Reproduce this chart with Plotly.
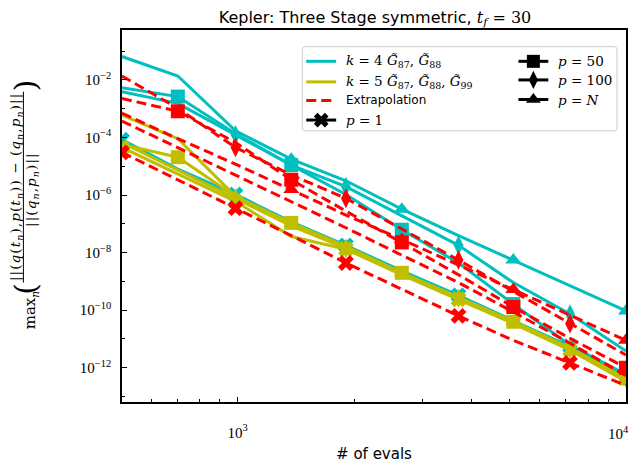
import plotly.graph_objects as go

# ---------------- data ----------------
evals = [504, 702, 988, 1375, 1901, 2648, 3706, 5128, 7176, 10000]

# k = 4 (cyan)
k4_pN   = [6.5e-2, 1.37e-2, 1.7e-4, 1.76e-5, 3.14e-6, 3.24e-7, 3.91e-8, 5.51e-9, 7.19e-10, 9.4e-11]
k4_p100 = [3.9e-3, 1.53e-3, 1.24e-4, 1.1e-5, 1.96e-6, 1.87e-7, 1.79e-8, 9.1e-10, 7.4e-11, 3.8e-12]
k4_p50  = [5.35e-3, 2.64e-3, 1.35e-4, 1.1e-5, 1.05e-6, 6.25e-8, 4.36e-9, 1.63e-10, 6.05e-12, 5.8e-13]
k4_p1   = [8.4e-5, 8.0e-6, 1.05e-6, 1.17e-7, 1.79e-8, 2.33e-9, 3.29e-10, 4.29e-11, 5.6e-12, 4.6e-13]

# k = 5 (olive)
k5_pN   = [5.97e-4, 9.1e-5, 8.96e-7, 1.0e-7, 1.53e-8, 1.99e-9, 2.81e-10, 3.97e-11, 4.79e-12, 3.91e-13]
k5_p100 = [6.65e-5, 7.43e-6, 7.66e-7, 8.55e-8, 1.41e-8, 1.84e-9, 2.60e-10, 3.67e-11, 4.43e-12, 3.61e-13]
k5_p50  = [5.69e-5, 2.06e-5, 8.96e-7, 1.08e-7, 1.65e-8, 1.99e-9, 2.81e-10, 3.97e-11, 4.79e-12, 4.23e-13]
k5_p1   = [4.5e-5, 5.43e-6, 6.05e-7, 3.61e-8, 1.31e-8, 1.70e-9, 2.40e-10, 3.40e-11, 4.09e-12, 3.34e-13]

# Extrapolation (red dashed)
ext_pN     = [6.98e-4, 9.10e-5, 1.19e-5, 1.55e-6, 2.02e-7, 2.86e-8, 3.72e-9, 5.26e-10, 6.87e-11, 8.96e-12]
ext_p100   = [1.37e-2, 1.03e-3, 4.50e-5, 5.02e-6, 7.66e-7, 6.76e-8, 5.51e-9, 4.50e-10, 3.40e-11, 2.77e-12]
ext_p50_b  = [3.73e-4, 4.50e-5, 5.02e-6, 6.05e-7, 7.31e-8, 8.16e-9, 9.1e-10, 8.69e-11, 7.08e-12, 5.34e-13]
ext_p50    = [2.26e-3, 8.16e-4, 6.65e-5, 3.40e-6, 2.77e-7, 2.26e-8, 1.70e-9, 1.29e-10, 1.05e-11, 1.0e-12]
ext_p1     = [3.04e-5, 3.40e-6, 3.50e-7, 3.91e-8, 4.36e-9, 5.26e-10, 6.35e-11, 8.96e-12, 1.48e-12, 2.44e-13]

# marker positions (indices into evals) for each p
marks_p1 = [0, 2, 4, 6, 8]
marks_p50 = [1, 3, 5, 7, 9]
marks_p100 = [2, 4, 6, 8]
marks_pN = [3, 5, 7, 9]

# tick labels
NB = "\u00a0"
xtick_vals = [1000, 10000]
xtick_text = ["10<sup>3</sup>", "10<sup>4</sup>"]
ytick_vals = [1e-2, 1e-4, 1e-6, 1e-8, 1e-10, 1e-12]
ytick_text = ["10<sup>−2</sup>", "10<sup>−4</sup>", "10<sup>−6</sup>", "10<sup>−8</sup>",
              "10<sup>−10</sup>", "10<sup>−12</sup>"]
xminor = [600, 700, 800, 900, 2000, 3000, 4000, 5000, 6000, 7000, 8000, 9000]
yminor = [1e-1, 1e-3, 1e-5, 1e-7, 1e-9, 1e-11, 1e-13]

CYAN = "#00BFBF"
OLIVE = "#BFBF00"
RED = "#FF0000"
DASH = "10px,5px"
SERIF = "Liberation Serif"
MSERIF = "DejaVu Serif"
SANS = "DejaVu Sans"

SYM = {"p1": ("x", 14), "p50": ("square", 14), "p100": ("diamond-tall", 14), "pN": ("triangle-up", 14)}
MARKS = {"p1": marks_p1, "p50": marks_p50, "p100": marks_p100, "pN": marks_pN}

fig = go.Figure()


def add_line(y, color, p, dash=None, marks=True):
    sym, sz = SYM[p]
    idx = MARKS[p] if marks else []
    sizes = [sz if i in idx else 0 for i in range(len(evals))]
    fig.add_trace(go.Scatter(
        x=evals, y=y, mode="lines+markers",
        line=dict(color=color, width=3, dash=dash or "solid"),
        marker=dict(symbol=sym, size=sizes, color=color, opacity=1, line=dict(width=0)),
        showlegend=False, hoverinfo="skip"))


for y, p in [(k4_pN, "pN"), (k4_p100, "p100"), (k4_p50, "p50"), (k4_p1, "p1")]:
    add_line(y, CYAN, p)
for y, p in [(k5_pN, "pN"), (k5_p100, "p100"), (k5_p50, "p50"), (k5_p1, "p1")]:
    add_line(y, OLIVE, p)
add_line(ext_p50_b, RED, "p50", DASH, marks=False)
for y, p in [(ext_pN, "pN"), (ext_p100, "p100"), (ext_p50, "p50"), (ext_p1, "p1")]:
    add_line(y, RED, p, DASH)

# ---------------- geometry (page pixels; page body has an 8px margin) ----------------
OFF = 8
FW, FH = 642 - 2 * OFF, 474 - 2 * OFF
L, R, T, B = 122, 628, 30, 410      # plot area in page pixels
W, H = R - L, B - T


def px(xp):
    return (xp - L) / W


def py(yp):
    return (B - yp) / H


# ---------------- manual legend ----------------
G = "<i>G\u0303</i>"
EQ = f"{NB}={NB}"
legend_col1 = [
    (62, f"<i>k</i>{EQ}4{NB}{G}<sub>87</sub>,{NB}{G}<sub>88</sub>", CYAN, "solid", None),
    (83, f"<i>k</i>{EQ}5{NB}{G}<sub>87</sub>,{NB}{G}<sub>88</sub>,{NB}{G}<sub>99</sub>", OLIVE, "solid", None),
    (102, "Extrapolation", RED, DASH, None),
    (122, f"<i>p</i>{EQ}1", "black", "solid", "p1"),
]
legend_col2 = [
    (62, f"<i>p</i>{EQ}50", "black", "solid", "p50"),
    (81, f"<i>p</i>{EQ}100", "black", "solid", "p100"),
    (101, f"<i>p</i>{EQ}<i>N</i>", "black", "solid", "pN"),
]
annotations = []
for entries, x0, x1, xt in [(legend_col1, 307, 337, 345), (legend_col2, 520, 550, 558)]:
    for yc, name, color, dash, p in entries:
        fig.add_trace(go.Scatter(x=[px(x0), px(x1)], y=[py(yc), py(yc)], xaxis="x2", yaxis="y2",
                                 mode="lines", line=dict(color=color, width=3, dash=dash),
                                 showlegend=False, hoverinfo="skip", cliponaxis=False))
        if p:
            sym, sz = SYM[p]
            fig.add_trace(go.Scatter(x=[px((x0 + x1) / 2)], y=[py(yc)], xaxis="x2", yaxis="y2",
                                     mode="markers", marker=dict(symbol=sym, size=sz - 1, color=color, opacity=1),
                                     showlegend=False, hoverinfo="skip", cliponaxis=False))
        is_sans = name == "Extrapolation"
        annotations.append(dict(text=name, x=px(xt), y=py(yc), xref="paper", yref="paper",
                                xanchor="left", yanchor="middle", showarrow=False,
                                font=dict(family=SANS if is_sans else MSERIF,
                                          size=12 if is_sans else 13.5, color="black")))

fig.add_shape(type="path",
              path=f"M {px(306)} {py(47)} L {px(616)} {py(47)} Q {px(619)} {py(47)} {px(619)} {py(50)} "
                   f"L {px(619)} {py(130)} Q {px(619)} {py(133)} {px(616)} {py(133)} "
                   f"L {px(306)} {py(133)} Q {px(303)} {py(133)} {px(303)} {py(130)} "
                   f"L {px(303)} {py(50)} Q {px(303)} {py(47)} {px(306)} {py(47)} Z",
              xref="paper", yref="paper", line=dict(color="#CCCCCC", width=1),
              fillcolor="rgba(255,255,255,0.8)", layer="below")

# the last x tick label sits on the right edge of the figure: draw it as a right-anchored label
annotations.append(dict(text=xtick_text[1], x=px(FW + OFF - 1), y=py(442), xref="paper", yref="paper",
                        xanchor="right", yanchor="middle", showarrow=False,
                        font=dict(family=SERIF, size=15, color="black")))
axis_ticktext = [xtick_text[0], ""]

# ---------------- y label (fraction) ----------------
LS = "<span style='letter-spacing:1.1px'>"
ylab = [
    ("max<sub><i>n</i></sub>", 31, 316, MSERIF, 15),
    ("(", 25, 294, MSERIF, 30),
    (LS + "||(<i>q</i>(<i>t<sub>n</sub></i>),<i>p</i>(<i>t<sub>n</sub></i>))" + NB + "−" + NB +
     "(<i>q<sub>n</sub></i>,<i>p<sub>n</sub></i>)||</span>", 15, 190, MSERIF, 13.5),
    (LS + "||(<i>q<sub>n</sub></i>,<i>p<sub>n</sub></i>)||</span>", 31, 193, MSERIF, 13.5),
    (")", 25, 86, MSERIF, 30),
]
for text, xx, yy, fam, sz in ylab:
    annotations.append(dict(text=text, x=px(xx), y=py(yy), xref="paper", yref="paper",
                            textangle=-90, showarrow=False, xanchor="center", yanchor="middle",
                            font=dict(family=fam, size=sz, color="black")))
fig.add_shape(type="line", x0=px(23), x1=px(23), y0=py(288), y1=py(93), xref="paper", yref="paper",
              line=dict(color="black", width=1))

fig.update_layout(
    width=FW, height=FH,
    margin=dict(l=L - OFF, r=FW + OFF - R, t=T - OFF, b=FH + OFF - B),
    paper_bgcolor="white", plot_bgcolor="white",
    showlegend=False,
    title=dict(text=f"Kepler: Three Stage symmetric, <span style='font-family:{MSERIF}'><i>t<sub>f</sub></i>{EQ}30</span>",
               x=px(376), xref="paper", xanchor="center", y=1 - (17 - OFF) / FH, yanchor="middle",
               font=dict(family=SANS, size=16, color="black")),
    xaxis=dict(type="log", range=[2.7026, 4.0], showgrid=False, zeroline=False,
               showline=True, linecolor="black", linewidth=1.5, mirror=True,
               tickmode="array", tickvals=xtick_vals, ticktext=axis_ticktext,
               ticks="inside", ticklen=5, tickwidth=1, tickcolor="black", ticklabelstandoff=16,
               minor=dict(tickmode="array", tickvals=xminor, ticks="inside", ticklen=3, tickwidth=1, tickcolor="black"),
               tickfont=dict(family=SERIF, size=15, color="black"),
               title=dict(text="# of evals", font=dict(family=SANS, size=15, color="black"), standoff=9)),
    yaxis=dict(type="log", range=[-13.19, -0.265], showgrid=False, zeroline=False,
               showline=True, linecolor="black", linewidth=1.5, mirror=True,
               tickmode="array", tickvals=ytick_vals, ticktext=ytick_text,
               ticks="inside", ticklen=5, tickwidth=1, tickcolor="black", ticklabelstandoff=6,
               minor=dict(tickmode="array", tickvals=yminor, ticks="inside", ticklen=3, tickwidth=1, tickcolor="black"),
               tickfont=dict(family=SERIF, size=15, color="black")),
    xaxis2=dict(overlaying="x", range=[0, 1], visible=False, fixedrange=True),
    yaxis2=dict(overlaying="y", range=[0, 1], visible=False, fixedrange=True),
    annotations=annotations,
)

fig.write_html("out.html")
